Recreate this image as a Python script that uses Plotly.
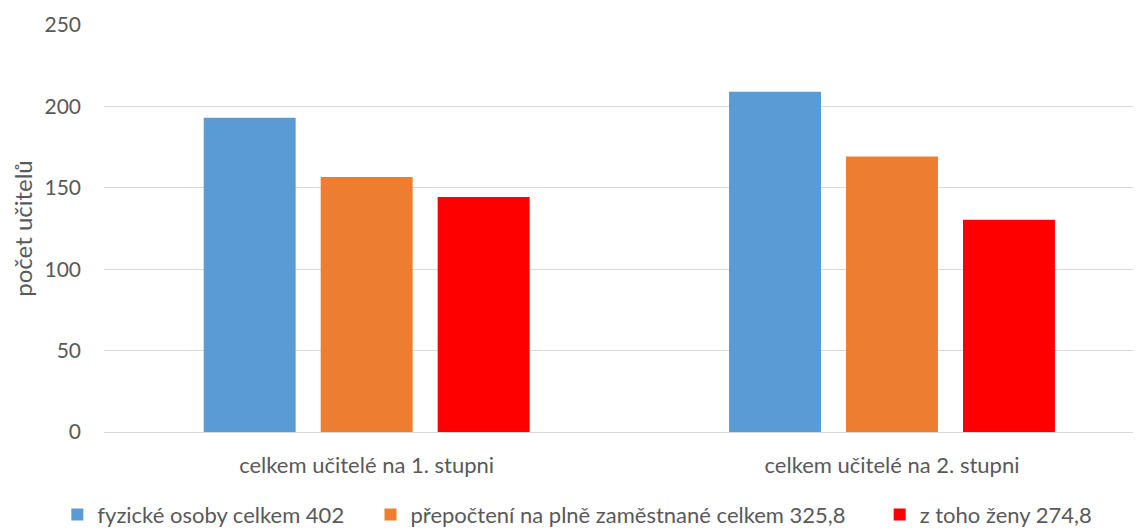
import plotly.graph_objects as go

categories = ["celkem učitelé na 1. stupni", "celkem učitelé na 2. stupni"]
series_names = ["fyzické osoby celkem 402",
                "přepočtení na plně zaměstnané celkem 325,8",
                "z toho ženy 274,8"]
fyzicke = [193, 209]
prepocteni = [156.6, 169.2]
zeny = [144.4, 130.4]
colors = ["#5B9BD5", "#ED7D31", "#FF0000"]
y_ticks = [0, 50, 100, 150, 200, 250]

legend_ids = ["legend", "legend2", "legend3"]
legend_x = [-0.045, 0.257, 0.748]

fig = go.Figure()
for name, vals, col, lg in zip(series_names, [fyzicke, prepocteni, zeny], colors, legend_ids):
    fig.add_trace(go.Bar(x=categories, y=vals, name=name, marker_color=col,
                         marker_line_width=0, legend=lg))

font_fam = "Lato, 'Open Sans', sans-serif"
legend_common = dict(orientation="h", xanchor="left", y=-0.203, yanchor="middle",
                     font=dict(size=22, color="#595959"), itemwidth=30,
                     bgcolor="rgba(0,0,0,0)")
fig.update_layout(
    width=1133, height=522,
    margin=dict(l=96, r=0, t=17, b=98, autoexpand=False),
    plot_bgcolor="white", paper_bgcolor="white",
    barmode="group", bargap=0.332, bargroupgap=0.214,
    font=dict(family=font_fam, size=21, color="#595959"),
    legend=dict(x=legend_x[0], **legend_common),
    legend2=dict(x=legend_x[1], **legend_common),
    legend3=dict(x=legend_x[2], **legend_common),
    showlegend=True,
)
fig.update_xaxes(range=[-0.5, 1.474], showgrid=False, showline=True,
                 linecolor="#D9D9D9", linewidth=1, ticks="", automargin=False,
                 ticklabelstandoff=14, tickfont=dict(size=22))
fig.update_yaxes(range=[0, 250], tickvals=y_ticks, showgrid=True,
                 gridcolor="#D9D9D9", gridwidth=1, zeroline=False, automargin=False,
                 showline=False, ticklabelstandoff=22, tickfont=dict(size=21),
                 title=dict(text="počet učitelů", font=dict(size=24), standoff=16))

fig.write_html("out.html")
